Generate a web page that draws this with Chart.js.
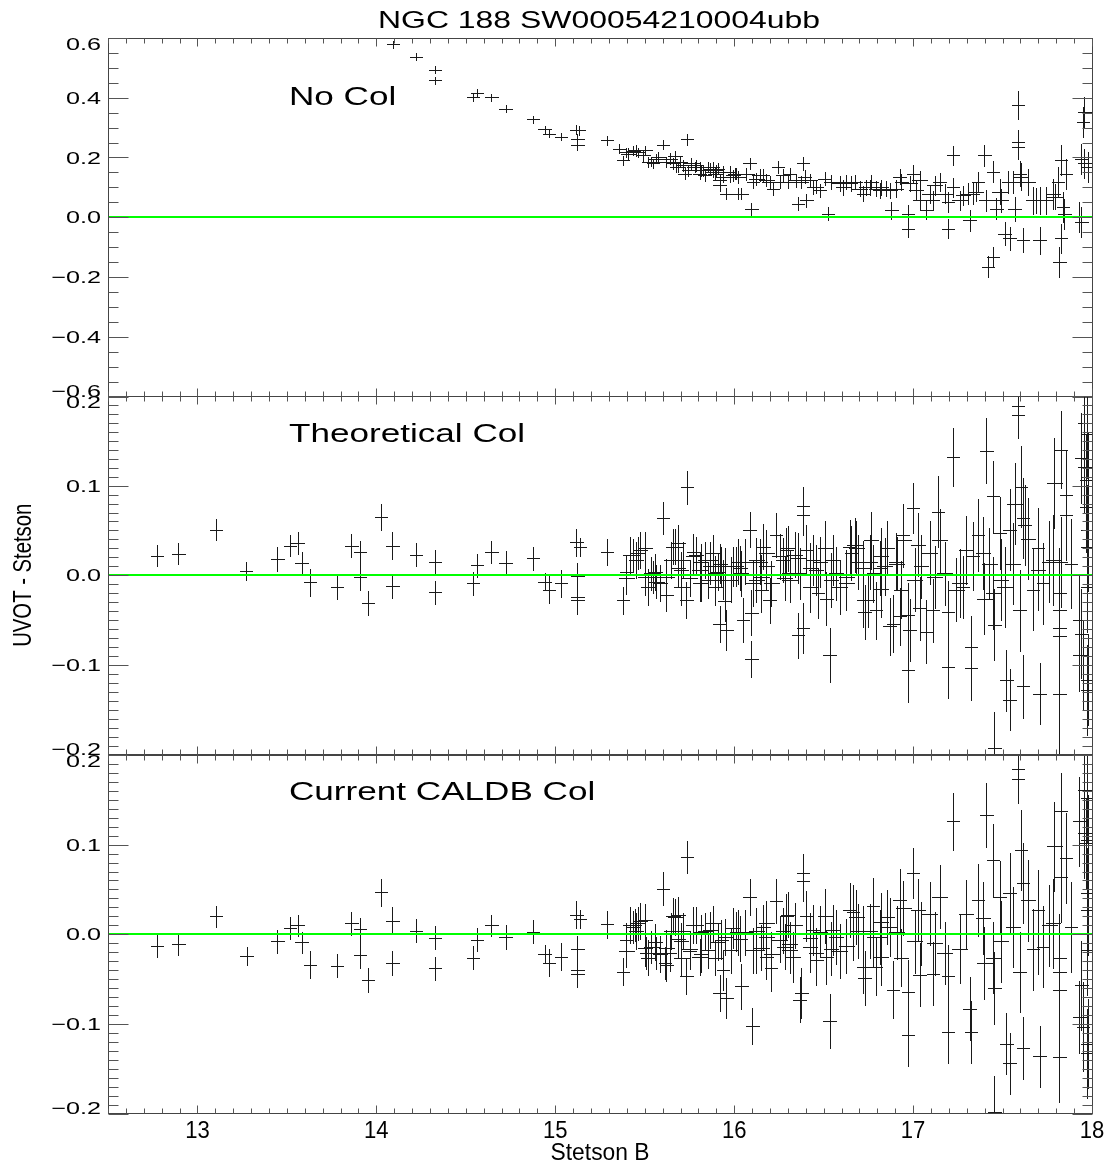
<!DOCTYPE html>
<html><head><meta charset="utf-8">
<script src="https://cdn.jsdelivr.net/npm/chart.js@4.4.1/dist/chart.umd.min.js"></script>
<style>
html,body{margin:0;padding:0;background:#fff;}
#wrap{position:relative;width:1110px;height:1163px;overflow:hidden;background:#fff;}
canvas{position:absolute;left:0;}
</style></head><body>
<div id="wrap">
<canvas id="c1" width="1110" height="420" style="top:0px"></canvas>
<canvas id="c2" width="1110" height="400" style="top:370px"></canvas>
<canvas id="c3" width="1110" height="433" style="top:730px"></canvas>
</div>
<script>
// ---------- text & axes ----------
const chartTitle = 'NGC 188 SW00054210004ubb';
const panelNames = ['No Col', 'Theoretical Col', 'Current CALDB Col'];
const xTitle = 'Stetson B';
const yTitle = 'UVOT - Stetson';
const xRange = [12.5, 18];
const xTickLabels = [13, 14, 15, 16, 17, 18];
const yTicksNoCol = [-0.6, -0.4, -0.2, 0.0, 0.2, 0.4, 0.6];
const yTicksCol = [-0.2, -0.1, 0.0, 0.1, 0.2];

// ---------- Panel 1: No Col ----------
const noColB = [14.094,14.221,14.327,14.327,14.541,14.563,14.643,14.723,14.876,14.941,
14.965,15.031,15.118,15.131,15.124,15.124,15.289,15.357,15.379,15.398,
15.435,15.463,15.500,15.537,15.565,15.546,15.602,15.640,15.668,15.677,
15.696,15.723,15.736,15.761,15.788,15.807,15.807,15.835,15.863,15.882,
15.900,15.919,15.937,15.937,15.956,15.975,15.993,16.012,16.021,16.040,
16.068,16.087,16.096,16.105,16.142,16.180,16.217,16.245,16.273,16.301,
16.347,16.357,16.384,16.394,16.403,16.441,16.478,16.506,16.524,16.589,
16.627,16.673,16.720,16.738,16.766,16.794,16.822,16.850,16.878,16.906,
16.934,16.971,16.971,16.999,17.018,17.036,17.074,17.092,17.111,17.148,
17.176,17.195,17.195,17.223,17.260,17.306,17.316,17.334,17.362,17.399,
17.409,17.418,17.446,17.446,17.465,17.493,17.511,17.530,17.539,17.558,
17.567,17.586,17.586,17.586,17.604,17.614,17.642,17.669,17.707,17.707,
17.744,17.781,17.809,17.818,17.828,17.828,17.837,17.846,17.855,17.930,
17.940,17.949,17.958,17.940,17.958,17.977,
15.407,15.453,15.491,15.518,15.574,15.621,15.658,15.686,15.714,15.742,
15.779,15.816,15.854,15.881,15.909,15.937,15.975,16.003,15.826,15.891,
15.919,16.021,16.124,16.161,16.198,16.254,16.310,16.375,16.422,16.459,
16.543,16.608,16.654,16.701,16.757,16.813,16.869,16.925,16.980,17.036,
17.120,17.223,17.278,17.353,17.483,17.595,17.688,17.791];
const noColD = [0.579,0.538,0.494,0.458,0.402,0.416,0.402,0.364,0.328,0.294,
0.280,0.269,0.293,0.291,0.263,0.241,0.258,0.230,0.191,0.218,
0.222,0.218,0.224,0.185,0.196,0.180,0.243,0.196,0.204,0.168,
0.185,0.146,0.261,0.180,0.174,0.146,0.168,0.140,0.163,0.168,
0.157,0.107,0.135,0.152,0.079,0.152,0.140,0.146,0.079,0.079,
0.146,0.180,0.029,0.118,0.140,0.124,0.096,0.168,0.140,0.118,
0.124,0.046,0.180,0.135,0.057,0.101,0.090,0.129,0.012,0.113,
0.118,0.118,0.079,0.101,0.118,0.096,0.101,0.096,0.023,0.096,
0.118,0.012,-0.038,0.146,0.090,0.057,0.023,0.079,0.057,0.118,
0.079,0.051,-0.038,0.207,0.057,0.079,-0.010,0.079,0.118,0.207,
0.057,-0.166,-0.133,0.152,0.029,0.057,-0.055,0.118,-0.071,0.118,
0.029,0.375,0.252,0.235,0.135,-0.077,0.118,0.057,-0.077,0.057,
0.057,0.079,0.118,-0.149,-0.071,0.191,0.034,0.012,0.146,0.001,
-0.016,0.319,0.352,0.196,0.180,0.168,
0.213,0.224,0.207,0.185,0.202,0.185,0.180,0.168,0.174,0.157,
0.168,0.157,0.168,0.152,0.163,0.152,0.135,0.146,0.157,0.146,
0.124,0.135,0.129,0.140,0.118,0.118,0.146,0.118,0.124,0.101,
0.118,0.101,0.113,0.096,0.101,0.090,0.090,0.135,0.113,0.124,
0.107,0.101,0.074,0.085,0.085,0.146,0.057,0.068];
const noColEB = [.035,.035,.035,.035,.035,.035,.035,.035,.035,.035,
.035,.035,.035,.035,.035,.035,.035,.035,.035,.035,
.04,.04,.04,.035,.04,.035,.035,.04,.04,.035,
.04,.035,.035,.04,.035,.035,.04,.035,.04,.035,
.04,.035,.04,.035,.035,.035,.04,.035,.035,.035,
.04,.035,.035,.035,.04,.04,.035,.035,.04,.035,
.04,.035,.035,.035,.035,.035,.035,.035,.035,.04,
.04,.04,.035,.04,.04,.04,.04,.04,.035,.04,
.035,.035,.035,.035,.04,.035,.035,.04,.035,.035,
.04,.035,.035,.035,.04,.04,.035,.035,.035,.035,
.04,.035,.035,.035,.035,.04,.035,.035,.035,.04,
.035,.035,.035,.035,.04,.035,.04,.04,.035,.04,
.04,.04,.035,.035,.035,.035,.035,.035,.035,.035,
.035,.035,.035,.035,.035,.035,
.04,.04,.04,.035,.04,.04,.035,.04,.04,.035,
.04,.035,.04,.04,.035,.04,.04,.035,.035,.04,
.035,.04,.04,.035,.04,.04,.035,.04,.04,.035,
.04,.04,.035,.04,.04,.035,.04,.035,.04,.04,
.04,.035,.04,.04,.04,.035,.04,.04];
const noColED = [.012,.012,.012,.012,.012,.012,.012,.012,.012,.012,
.012,.012,.015,.015,.015,.015,.015,.015,.015,.015,
.015,.015,.015,.015,.015,.015,.015,.018,.018,.018,
.018,.018,.018,.018,.018,.018,.018,.018,.018,.018,
.018,.018,.018,.018,.018,.018,.018,.018,.018,.018,
.02,.02,.02,.02,.02,.02,.02,.02,.02,.02,
.022,.022,.022,.022,.022,.022,.022,.022,.022,.025,
.025,.025,.025,.025,.025,.025,.025,.025,.028,.028,
.028,.028,.028,.028,.03,.03,.03,.03,.03,.03,
.032,.032,.032,.032,.032,.035,.035,.035,.035,.035,
.035,.035,.035,.035,.035,.038,.038,.038,.038,.038,
.04,.047,.04,.04,.045,.04,.045,.045,.045,.045,
.045,.05,.05,.05,.05,.05,.05,.05,.05,.05,
.05,.05,.05,.05,.05,.05,
.018,.018,.018,.018,.018,.018,.018,.018,.018,.018,
.018,.018,.018,.018,.018,.018,.018,.018,.018,.018,
.018,.02,.02,.02,.02,.02,.02,.02,.02,.02,
.025,.025,.025,.025,.025,.025,.025,.025,.025,.032,
.032,.032,.032,.032,.042,.042,.042,.042];

// ---------- Panel 2: Theoretical Col ----------
const theoB = [12.775,12.893,13.103,13.271,13.446,13.517,13.560,13.582,13.629,13.781,
13.861,13.908,13.908,13.954,14.025,14.090,14.090,14.221,14.327,14.327,
14.541,14.563,14.643,14.723,14.876,14.941,14.965,15.031,15.118,15.137,
15.124,15.124,15.124,15.289,15.379,15.398,15.398,15.435,15.463,15.500,
15.537,15.546,15.565,15.602,15.621,15.658,15.686,15.704,15.733,15.736,
15.770,15.770,15.807,15.807,15.863,15.863,15.891,15.919,15.919,15.928,
15.937,15.947,15.956,15.993,16.012,16.040,16.049,16.087,16.096,16.096,
16.105,16.142,16.152,16.161,16.198,16.235,16.254,16.282,16.291,16.301,
16.357,16.366,16.357,16.384,16.384,16.384,16.403,16.422,16.459,16.468,
16.506,16.515,16.534,16.571,16.589,16.627,16.645,16.654,16.673,16.720,
16.720,16.729,16.748,16.766,16.775,16.794,16.822,16.841,16.869,16.887,
16.906,16.925,16.943,16.971,16.971,16.980,16.999,17.008,17.027,17.036,
17.073,17.092,17.111,17.139,17.148,17.176,17.195,17.195,17.223,17.242,
17.279,17.297,17.325,17.325,17.334,17.362,17.399,17.409,17.427,17.446,
17.455,17.455,17.483,17.493,17.511,17.521,17.539,17.539,17.567,17.586,
17.586,17.595,17.604,17.614,17.623,17.614,17.642,17.669,17.697,17.707,
17.725,17.781,17.790,17.818,17.818,17.828,17.818,17.818,17.818,17.818,
17.828,17.855,17.855,17.883,17.930,17.940,17.930,17.940,17.958,17.958,
17.967,17.967,17.949,17.972,17.975,17.972,17.975,17.972,17.975,17.972,
15.416,15.453,15.472,15.500,15.518,15.556,15.584,15.621,15.649,15.668,
15.686,15.705,15.714,15.751,15.788,15.816,15.835,15.881,15.909,15.947,
15.984,16.031,16.059,16.124,16.152,16.180,16.208,16.273,16.310,16.338,
16.422,16.478,16.552,16.627,16.683,16.760,16.816,16.853,16.908,16.946,
15.816,15.854,15.891,16.021,16.124,16.180,16.310,16.440,16.543,16.692,
16.822,16.934,17.045,17.120,17.260,17.390,17.446,17.558,17.697,17.762];
const theoD = [0.022,0.024,0.051,0.005,0.018,0.033,0.036,0.014,-0.008,-0.013,
0.033,0.026,-0.002,-0.031,0.065,0.033,-0.012,0.023,0.015,-0.019,
-0.009,0.011,0.026,0.014,0.019,-0.007,-0.016,-0.009,0.037,0.032,
-0.001,-0.024,-0.028,0.026,-0.028,-0.003,0.004,0.023,0.025,0.030,
0.002,-0.002,-0.007,0.064,-0.022,0.032,0.036,0.006,-0.028,0.098,
0.021,0.026,0.006,-0.009,0.017,0.010,0.002,0.013,-0.054,0.010,
-0.005,-0.029,-0.061,0.010,0.010,0.002,-0.050,0.051,-0.042,-0.093,
-0.009,0.015,-0.016,0.032,-0.028,0.045,0.021,-0.003,0.028,0.030,
0.019,0.002,-0.067,-0.059,0.077,0.067,0.028,-0.013,0.006,-0.020,
0.030,-0.026,-0.089,0.002,-0.013,-0.009,0.032,0.025,0.034,0.008,
-0.028,-0.041,-0.028,0.039,0.002,-0.039,0.021,0.010,-0.057,-0.054,
0.015,-0.046,0.045,-0.106,-0.044,-0.061,0.075,-0.005,0.034,-0.037,
-0.063,0.025,-0.039,0.071,0.039,0.002,-0.041,-0.102,0.132,-0.016,
-0.013,0.028,-0.080,-0.104,0.021,0.045,-0.026,0.139,0.013,0.088,
-0.055,-0.193,0.047,-0.005,-0.013,-0.117,-0.139,0.051,0.080,0.179,
0.189,-0.039,0.099,0.064,0.056,-0.124,0.041,-0.016,0.030,-0.132,
-0.009,0.017,0.103,-0.132,-0.199,0.140,-0.020,-0.039,-0.059,-0.068,
0.015,0.090,0.067,0.013,-0.050,-0.065,-0.089,0.131,0.121,0.170,
0.106,0.076,-0.100,0.158,0.110,0.051,0.032,-0.013,-0.117,-0.128,
0.023,0.017,0.028,-0.002,-0.013,0.004,-0.009,-0.002,0.017,0.032,
0.008,-0.013,0.017,-0.003,0.023,-0.009,0.017,0.025,0.004,0.010,
-0.005,0.008,0.015,0.017,-0.002,0.025,-0.009,0.017,-0.005,0.023,
0.008,0.015,0.017,-0.002,0.030,0.015,0.008,0.030,0.013,0.039,
0.015,-0.005,-0.013,0.015,-0.005,0.010,0.002,0.017,-0.005,0.015,
-0.015,-0.016,0.010,-0.002,-0.009,0.025,-0.020,0.013,0.006,0.015];
const theoEB = [.035,.035,.035,.035,.035,.035,.035,.035,.035,.035,
.035,.035,.035,.035,.035,.035,.035,.035,.035,.035,
.035,.035,.035,.035,.035,.035,.035,.035,.035,.035,
.035,.035,.035,.035,.035,.04,.035,.04,.04,.04,
.04,.035,.04,.035,.035,.04,.04,.04,.035,.035,
.04,.035,.04,.035,.04,.035,.04,.04,.035,.035,
.04,.035,.035,.04,.035,.04,.035,.035,.035,.035,
.04,.04,.035,.04,.035,.035,.04,.04,.035,.04,
.04,.035,.035,.035,.035,.035,.035,.04,.04,.035,
.04,.035,.035,.04,.04,.04,.035,.035,.04,.04,
.035,.035,.035,.04,.035,.035,.04,.04,.035,.035,
.04,.035,.035,.035,.035,.035,.035,.04,.04,.035,
.035,.04,.035,.035,.04,.04,.035,.035,.035,.04,
.035,.04,.035,.035,.035,.035,.04,.035,.04,.035,
.035,.035,.035,.04,.04,.035,.035,.035,.04,.035,
.035,.035,.035,.035,.035,.035,.04,.035,.035,.035,
.035,.04,.04,.035,.035,.035,.035,.035,.035,.035,
.035,.035,.035,.035,.035,.035,.035,.035,.035,.035,
.035,.035,.035,.035,.035,.035,.035,.035,.035,.035,
.04,.04,.04,.04,.04,.04,.04,.04,.04,.04,
.04,.04,.04,.04,.04,.04,.04,.04,.04,.04,
.04,.04,.04,.04,.04,.04,.04,.04,.04,.04,
.04,.04,.04,.04,.04,.04,.04,.04,.04,.04,
.04,.04,.04,.04,.04,.04,.04,.04,.04,.04,
.04,.04,.04,.04,.04,.04,.04,.04,.04,.04];
const theoED = [.012,.012,.012,.010,.013,.012,.012,.012,.015,.013,
.013,.012,.015,.013,.015,.015,.013,.013,.013,.013,
.013,.013,.012,.013,.013,.010,.015,.015,.015,.010,
.015,.015,.015,.015,.015,.018,.018,.018,.018,.018,
.018,.018,.018,.018,.018,.020,.020,.020,.020,.018,
.020,.020,.020,.020,.020,.020,.020,.022,.020,.022,
.022,.022,.022,.022,.022,.025,.025,.020,.025,.020,
.025,.025,.025,.025,.025,.025,.025,.025,.025,.025,
.028,.028,.025,.028,.022,.022,.028,.028,.028,.028,
.030,.030,.030,.030,.030,.030,.030,.030,.030,.030,
.030,.030,.030,.032,.032,.032,.032,.032,.032,.032,
.032,.032,.035,.035,.035,.035,.028,.035,.035,.035,
.035,.035,.035,.040,.035,.035,.035,.035,.032,.035,
.035,.038,.035,.035,.038,.040,.040,.036,.040,.040,
.040,.040,.040,.045,.045,.034,.034,.045,.045,.026,
.030,.045,.045,.045,.045,.035,.045,.045,.045,.034,
.045,.050,.050,.050,.050,.043,.050,.050,.050,.050,
.050,.050,.050,.050,.050,.050,.040,.050,.050,.050,
.050,.050,.050,.050,.050,.050,.050,.050,.050,.050,
.020,.020,.020,.020,.020,.020,.020,.020,.020,.020,
.020,.020,.020,.020,.020,.020,.020,.020,.020,.020,
.025,.025,.025,.025,.025,.025,.025,.025,.025,.025,
.028,.028,.028,.030,.030,.030,.030,.030,.030,.030,
.020,.020,.020,.025,.025,.025,.025,.028,.030,.030,
.032,.032,.035,.035,.038,.040,.040,.045,.045,.045];

// ---------- Panel 3: Current CALDB Col ----------
const caldbB = [12.775,12.893,13.103,13.275,13.446,13.517,13.560,13.582,13.629,13.781,
13.861,13.908,13.908,13.954,14.025,14.090,14.090,14.221,14.327,14.327,
14.541,14.563,14.643,14.723,14.876,14.941,14.965,15.031,15.118,15.137,
15.124,15.124,15.124,15.289,15.379,15.398,15.398,15.435,15.444,15.463,
15.500,15.509,15.537,15.565,15.602,15.612,15.621,15.640,15.658,15.686,
15.704,15.733,15.736,15.751,15.770,15.807,15.863,15.919,15.928,15.937,
15.956,15.994,16.012,16.040,16.087,16.101,16.105,16.161,16.180,16.207,
16.235,16.254,16.282,16.291,16.301,16.329,16.366,16.375,16.384,16.384,
16.403,16.422,16.459,16.459,16.506,16.515,16.534,16.571,16.589,16.645,
16.664,16.664,16.720,16.720,16.729,16.775,16.775,16.794,16.822,16.869,
16.887,16.925,16.971,16.971,16.999,17.008,17.027,17.036,17.092,17.111,
17.148,17.176,17.195,17.195,17.223,17.260,17.297,17.316,17.325,17.362,
17.399,17.409,17.446,17.455,17.455,17.483,17.493,17.521,17.539,17.539,
17.586,17.586,17.595,17.604,17.614,17.614,17.642,17.669,17.697,17.707,
17.725,17.781,17.790,17.818,17.828,17.828,17.818,17.818,17.818,17.855,
17.883,17.940,17.930,17.930,17.958,17.958,17.967,17.949,17.972,17.975,
17.972,17.975,17.972,17.975,17.972,
15.416,15.453,15.472,15.500,15.518,15.556,15.584,15.621,15.649,15.668,
15.686,15.705,15.714,15.751,15.788,15.816,15.835,15.881,15.909,15.947,
15.984,16.031,16.059,16.124,16.152,16.180,16.208,16.273,16.310,16.338,
16.422,16.478,16.552,16.627,16.683,16.760,16.816,16.853,16.908,16.946,
15.816,15.854,15.891,16.021,16.124,16.180,16.310,16.440,16.543,16.692,
16.822,16.934,17.045,17.120,17.260,17.390,17.446,17.558,17.697,17.762];
const caldbD = [-0.013,-0.011,0.020,-0.024,-0.008,0.007,0.010,-0.009,-0.034,-0.035,
0.012,0.006,-0.023,-0.051,0.047,0.015,-0.032,0.004,-0.004,-0.038,
-0.026,-0.006,0.010,-0.003,0.003,-0.022,-0.032,-0.025,0.022,0.017,
-0.017,-0.040,-0.044,0.011,-0.042,-0.019,-0.006,0.008,0.010,0.012,
0.016,-0.021,-0.014,-0.021,0.051,-0.032,-0.034,-0.021,0.020,0.022,
-0.008,-0.047,0.086,-0.019,0.010,-0.025,0.005,-0.066,-0.006,-0.040,
-0.071,0.007,0.003,-0.058,0.042,-0.102,-0.018,0.008,-0.025,-0.038,
0.037,-0.006,-0.014,0.020,0.022,-0.025,-0.073,-0.066,0.068,0.059,
0.020,-0.014,-0.021,-0.029,0.020,-0.025,-0.097,-0.003,-0.019,0.027,
0.001,0.025,-0.036,0.001,-0.049,0.031,-0.003,-0.036,0.014,0.008,
-0.062,0.038,-0.112,-0.064,0.068,-0.008,0.027,-0.045,0.023,-0.044,
0.042,-0.021,-0.109,-0.047,0.126,-0.017,0.023,-0.083,-0.109,0.038,
-0.032,0.133,0.083,-0.060,-0.198,0.042,-0.008,-0.122,-0.144,0.046,
0.173,0.184,-0.042,0.094,0.057,-0.127,0.038,-0.017,0.027,-0.136,
-0.014,0.012,0.098,-0.137,0.137,0.064,-0.027,-0.042,-0.062,0.085,
0.008,-0.057,-0.092,0.126,0.113,0.161,0.102,-0.103,0.152,0.105,
0.046,0.027,-0.018,-0.122,-0.133,
0.010,0.004,0.015,-0.015,-0.026,-0.009,-0.022,-0.015,0.004,0.019,
-0.005,-0.026,0.004,-0.016,0.010,-0.022,0.004,0.012,-0.009,-0.003,
-0.018,-0.005,0.002,0.004,-0.015,0.012,-0.022,0.004,-0.018,0.010,
-0.004,0.003,0.005,-0.013,0.019,0.004,-0.003,0.019,0.002,0.029,
0.002,-0.018,-0.026,0.002,-0.018,-0.003,-0.011,0.005,-0.016,0.004,
-0.025,-0.026,0.001,-0.010,-0.016,0.018,-0.026,0.008,0.001,0.010];
const caldbEB = [.035,.035,.035,.035,.035,.035,.035,.035,.035,.035,
.035,.035,.035,.035,.035,.035,.035,.035,.035,.035,
.035,.035,.035,.035,.035,.035,.035,.035,.035,.035,
.035,.035,.035,.035,.035,.04,.035,.04,.035,.04,
.04,.035,.04,.04,.035,.035,.035,.035,.04,.04,
.04,.035,.035,.035,.04,.04,.04,.035,.035,.035,
.035,.04,.035,.035,.035,.035,.04,.04,.035,.035,
.035,.04,.04,.035,.04,.04,.035,.035,.035,.035,
.035,.04,.04,.035,.04,.035,.035,.04,.04,.035,
.035,.035,.035,.04,.035,.035,.035,.035,.04,.04,
.035,.035,.035,.035,.035,.04,.04,.035,.04,.035,
.04,.04,.035,.035,.035,.04,.04,.035,.035,.035,
.04,.035,.035,.035,.035,.035,.04,.035,.035,.035,
.035,.035,.035,.035,.035,.035,.04,.035,.035,.035,
.035,.04,.04,.035,.035,.035,.035,.035,.035,.035,
.035,.035,.035,.035,.035,.035,.035,.035,.035,.035,
.035,.035,.035,.035,.035,
.04,.04,.04,.04,.04,.04,.04,.04,.04,.04,
.04,.04,.04,.04,.04,.04,.04,.04,.04,.04,
.04,.04,.04,.04,.04,.04,.04,.04,.04,.04,
.04,.04,.04,.04,.04,.04,.04,.04,.04,.04,
.04,.04,.04,.04,.04,.04,.04,.04,.04,.04,
.04,.04,.04,.04,.04,.04,.04,.04,.04,.04];
const caldbED = [.012,.012,.012,.010,.013,.012,.012,.012,.015,.013,
.013,.012,.015,.013,.015,.015,.013,.013,.013,.013,
.013,.013,.012,.013,.013,.010,.015,.015,.015,.010,
.015,.015,.015,.015,.015,.018,.018,.018,.018,.018,
.018,.018,.018,.018,.018,.018,.018,.020,.020,.020,
.020,.020,.018,.020,.020,.020,.020,.020,.022,.022,
.022,.022,.022,.025,.020,.020,.025,.025,.025,.025,
.025,.025,.025,.025,.025,.028,.025,.028,.022,.022,
.028,.028,.028,.028,.030,.030,.030,.030,.030,.030,
.030,.030,.030,.030,.030,.032,.032,.032,.032,.032,
.032,.035,.035,.035,.028,.035,.035,.035,.035,.035,
.035,.035,.035,.035,.032,.035,.038,.035,.035,.040,
.040,.036,.040,.040,.040,.040,.045,.034,.034,.045,
.026,.030,.045,.045,.045,.035,.045,.045,.045,.034,
.045,.050,.050,.050,.043,.050,.050,.050,.050,.050,
.050,.050,.040,.050,.050,.050,.050,.050,.050,.050,
.050,.050,.050,.050,.050,
.020,.020,.020,.020,.020,.020,.020,.020,.020,.020,
.020,.020,.020,.020,.020,.020,.020,.020,.020,.020,
.025,.025,.025,.025,.025,.025,.025,.025,.025,.025,
.028,.028,.028,.030,.030,.030,.030,.030,.030,.030,
.020,.020,.020,.025,.025,.025,.025,.028,.030,.030,
.032,.032,.035,.035,.038,.040,.040,.045,.045,.045];

// ---------- drawing helpers ----------
const FONT = '"Liberation Sans", Arial, Helvetica, sans-serif';
function txt(ctx, s, x, y, o) {
  ctx.save();
  ctx.translate(x, y);
  if (o.rot) ctx.rotate(o.rot);
  ctx.scale(o.sx || 1, 1);
  ctx.font = o.size + 'px ' + FONT;
  ctx.textAlign = o.align || 'left';
  ctx.textBaseline = 'alphabetic';
  ctx.fillStyle = '#000';
  ctx.fillText(s, 0, 0);
  ctx.restore();
}
function fmt(v) {
  const s = Math.abs(v).toFixed(1);
  return (v < -1e-9 ? '\u2212' : '') + s;
}
function crisp(v) { return Math.round(v) + 0.5; }

function panelPlugin(p) {
  return {
    id: 'panelDraw',
    afterDraw(chart) {
      const ctx = chart.ctx, a = chart.chartArea, xs = chart.scales.x, ys = chart.scales.y;
      // error-bar crosses
      ctx.save();
      ctx.beginPath();
      ctx.rect(a.left, a.top, a.right - a.left, a.bottom - a.top);
      ctx.clip();
      ctx.strokeStyle = '#1a1a1a';
      ctx.lineWidth = 1;
      ctx.beginPath();
      const n = Math.min(p.B.length, p.D.length, p.EB.length, p.ED.length);
      for (let i = 0; i < n; i++) {
        const px = crisp(xs.getPixelForValue(p.B[i]));
        const py = crisp(ys.getPixelForValue(p.D[i]));
        const x0 = Math.round(xs.getPixelForValue(p.B[i] - p.EB[i]));
        const x1 = Math.round(xs.getPixelForValue(p.B[i] + p.EB[i]));
        const y0 = Math.round(ys.getPixelForValue(p.D[i] - p.ED[i]));
        const y1 = Math.round(ys.getPixelForValue(p.D[i] + p.ED[i]));
        ctx.moveTo(x0, py); ctx.lineTo(x1 + 1, py);
        ctx.moveTo(px, y1); ctx.lineTo(px, y0 + 1);
      }
      ctx.stroke();
      // zero line
      const y0p = Math.round(ys.getPixelForValue(0));
      ctx.strokeStyle = '#00ff00';
      ctx.lineWidth = 2;
      ctx.beginPath();
      ctx.moveTo(a.left, y0p); ctx.lineTo(a.right, y0p);
      ctx.stroke();
      ctx.restore();

      // frame
      ctx.save();
      ctx.strokeStyle = '#444';
      ctx.lineWidth = 1;
      const L = crisp(a.left - 0.5), R = crisp(a.right - 0.5), T = crisp(a.top - 0.5), Bt = crisp(a.bottom - 0.5);
      ctx.strokeRect(L, T, R - L, Bt - T);
      // ticks
      ctx.strokeStyle = '#555';
      ctx.beginPath();
      for (let k = Math.round(xRange[0] * 10); k <= Math.round(xRange[1] * 10); k++) {
        const px = crisp(xs.getPixelForValue(k / 10));
        const len = (k % 10 === 0) ? 8 : 5;
        ctx.moveTo(px, Bt); ctx.lineTo(px, Bt - len);
        ctx.moveTo(px, T); ctx.lineTo(px, T + len);
      }
      const lo = Math.round(p.ymin * 100), hi = Math.round(p.ymax * 100);
      for (let k = lo; k <= hi; k += p.minorStep) {
        const py = crisp(ys.getPixelForValue(k / 100));
        const len = (k % p.majorEvery === 0) ? 20 : 10;
        ctx.moveTo(L, py); ctx.lineTo(L + len, py);
        ctx.moveTo(R, py); ctx.lineTo(R - len, py);
      }
      ctx.stroke();
      ctx.restore();

      // y tick labels
      p.ticks.forEach(v => {
        let py = ys.getPixelForValue(v);
        if (Math.abs(v - p.ymax) < 1e-9) py += 6;
        if (Math.abs(v - p.ymin) < 1e-9) py -= 6;
        txt(ctx, fmt(v), a.left - 7, py + 6, {size: 17, sx: 1.48, align: 'right'});
      });
      // panel label
      txt(ctx, p.name, 289, a.top + p.nameOffset, {size: 26, sx: 1.35});
      if (p.extra) p.extra(chart);
    }
  };
}

function makePanel(id, p) {
  const canvas = document.getElementById(id);
  return new Chart(canvas.getContext('2d'), {
    type: 'scatter',
    data: {datasets: [{data: p.B.map((b, i) => ({x: b, y: p.D[i]})), pointRadius: 0, showLine: false}]},
    options: {
      responsive: false, animation: false, events: [], devicePixelRatio: 1,
      layout: {padding: {left: 108, right: 18, top: p.padTop, bottom: p.padBottom}},
      plugins: {legend: {display: false}, tooltip: {enabled: false}, title: {display: false}},
      scales: {
        x: {type: 'linear', min: xRange[0], max: xRange[1], display: false},
        y: {type: 'linear', min: p.ymin, max: p.ymax, display: false}
      }
    },
    plugins: [panelPlugin(p)]
  });
}

makePanel('c1', {
  B: noColB, D: noColD, EB: noColEB, ED: noColED, ymin: -0.6, ymax: 0.6,
  ticks: yTicksNoCol, minorStep: 5, majorEvery: 20, name: panelNames[0], nameOffset: 67,
  padTop: 38, padBottom: 23.5,
  extra(chart) {
    txt(chart.ctx, chartTitle, 599, 28, {size: 24, sx: 1.33, align: 'center'});
  }
});
makePanel('c2', {
  B: theoB, D: theoD, EB: theoEB, ED: theoED, ymin: -0.2, ymax: 0.2,
  ticks: yTicksCol, minorStep: 1, majorEvery: 10, name: panelNames[1], nameOffset: 45.7,
  padTop: 26, padBottom: 15.5,
  extra(chart) {
    const a = chart.chartArea;
    txt(chart.ctx, yTitle, 31, (a.top + a.bottom) / 2, {size: 26, sx: 0.78, align: 'center', rot: -Math.PI / 2});
  }
});
makePanel('c3', {
  B: caldbB, D: caldbD, EB: caldbEB, ED: caldbED, ymin: -0.2, ymax: 0.2,
  ticks: yTicksCol, minorStep: 1, majorEvery: 10, name: panelNames[2], nameOffset: 45,
  padTop: 25, padBottom: 49.5,
  extra(chart) {
    const a = chart.chartArea, xs = chart.scales.x;
    xTickLabels.forEach(v => {
      txt(chart.ctx, String(v), xs.getPixelForValue(v), a.bottom + 24, {size: 24, sx: 0.92, align: 'center'});
    });
    txt(chart.ctx, xTitle, (a.left + a.right) / 2, a.bottom + 46, {size: 24, sx: 0.95, align: 'center'});
  }
});
</script>
</body></html>
